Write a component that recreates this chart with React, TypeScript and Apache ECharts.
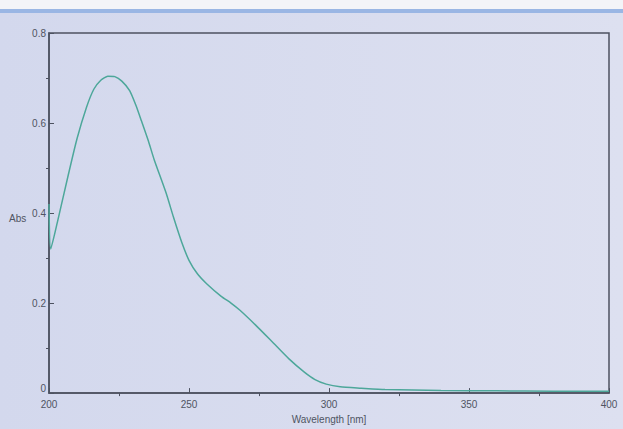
import React, { useEffect, useRef } from "react";
import * as echarts from "echarts";

const wavelengths = [200, 200.6, 203, 206.9, 210, 213.4, 216, 218.5, 221, 223.5, 226, 228.8, 231, 233, 235.5, 237.6, 241.8, 244.5, 247.4, 250, 253, 256.3, 261.5, 265, 268.2, 273.8, 279.7, 285.7, 291.3, 295, 299, 304, 311.5, 320, 340, 360, 380, 400];
const absorbance = [0.42, 0.32, 0.38, 0.485, 0.565, 0.635, 0.675, 0.695, 0.704, 0.703, 0.693, 0.672, 0.64, 0.605, 0.56, 0.518, 0.445, 0.39, 0.335, 0.295, 0.265, 0.243, 0.215, 0.2, 0.184, 0.151, 0.114, 0.076, 0.046, 0.03, 0.02, 0.014, 0.011, 0.008, 0.006, 0.005, 0.004, 0.004];
const xTicks = [200, 250, 300, 350, 400];
const yTicks = [0, 0.2, 0.4, 0.6, 0.8];

export default function App() {
  const ref = useRef<HTMLDivElement>(null);
  useEffect(() => {
    if (!ref.current) return;
    const chart = echarts.init(ref.current, undefined, { renderer: "svg" });
    const axisColor = "#4d5260";
    const labelColor = "#4f5462";
    const font = "Liberation Sans";
    chart.setOption({
      animation: false,
      backgroundColor: new echarts.graphic.LinearGradient(0, 0, 1, 0, [
        { offset: 0, color: "#d3d8ed" },
        { offset: 1, color: "#dde0f0" },
      ]),
      graphic: [
        { type: "rect", shape: { x: 0, y: 0, width: 623, height: 9 }, style: { fill: "#f3f4f8" } },
        { type: "rect", shape: { x: 0, y: 9, width: 623, height: 4 }, style: { fill: "#9ab6e4" } },
      ],
      grid: {
        left: 49,
        right: 14,
        top: 33,
        bottom: 33,
        show: true,
        borderColor: axisColor,
        borderWidth: 1.5,
        backgroundColor: "transparent",
      },
      xAxis: {
        type: "value",
        min: 200,
        max: 400,
        interval: 50,
        name: "Wavelength [nm]",
        nameLocation: "middle",
        nameGap: 19,
        nameTextStyle: { color: labelColor, fontSize: 10, fontFamily: font },
        axisLine: { show: true, lineStyle: { color: axisColor, width: 1.5 } },
        axisTick: { show: true, inside: true, length: 5, lineStyle: { color: axisColor } },
        minorTick: { show: true, splitNumber: 2, length: -3, lineStyle: { color: axisColor } },
        axisLabel: {
          color: labelColor,
          fontSize: 10,
          fontFamily: font,
          margin: 6,
          formatter: (v: number) => (xTicks.includes(v) ? String(v) : ""),
        },
        splitLine: { show: false },
      },
      yAxis: {
        type: "value",
        min: 0,
        max: 0.8,
        interval: 0.2,
        name: "Abs",
        nameLocation: "middle",
        nameRotate: 0,
        nameGap: 22,
        nameTextStyle: { color: labelColor, fontSize: 10, fontFamily: font, verticalAlign: "top" },
        axisLine: { show: true, lineStyle: { color: axisColor, width: 1.5 } },
        axisTick: { show: true, inside: true, length: 5, lineStyle: { color: axisColor } },
        minorTick: { show: true, splitNumber: 2, length: -3, lineStyle: { color: axisColor } },
        axisLabel: {
          color: labelColor,
          fontSize: 10,
          fontFamily: font,
          margin: 3,
          formatter: (v: number) => {
            const t = yTicks.find((y) => Math.abs(y - v) < 1e-9);
            if (t === undefined) return "";
            return t === 0 ? "{z|0}" : t.toFixed(1);
          },
          rich: {
            z: { color: labelColor, fontSize: 10, fontFamily: font, padding: [0, 0, 9, 0] },
          },
        },
        splitLine: { show: false },
      },
      series: [
        {
          type: "line",
          data: wavelengths.map((w, i) => [w, absorbance[i]]),
          smooth: 0.2,
          showSymbol: false,
          lineStyle: { color: "#4da79a", width: 1.5 },
        },
      ],
    });
    return () => chart.dispose();
  }, []);
  return (
    <div
      ref={ref}
      style={{ position: "fixed", left: 0, top: 0, width: 623, height: 429 }}
    />
  );
}
